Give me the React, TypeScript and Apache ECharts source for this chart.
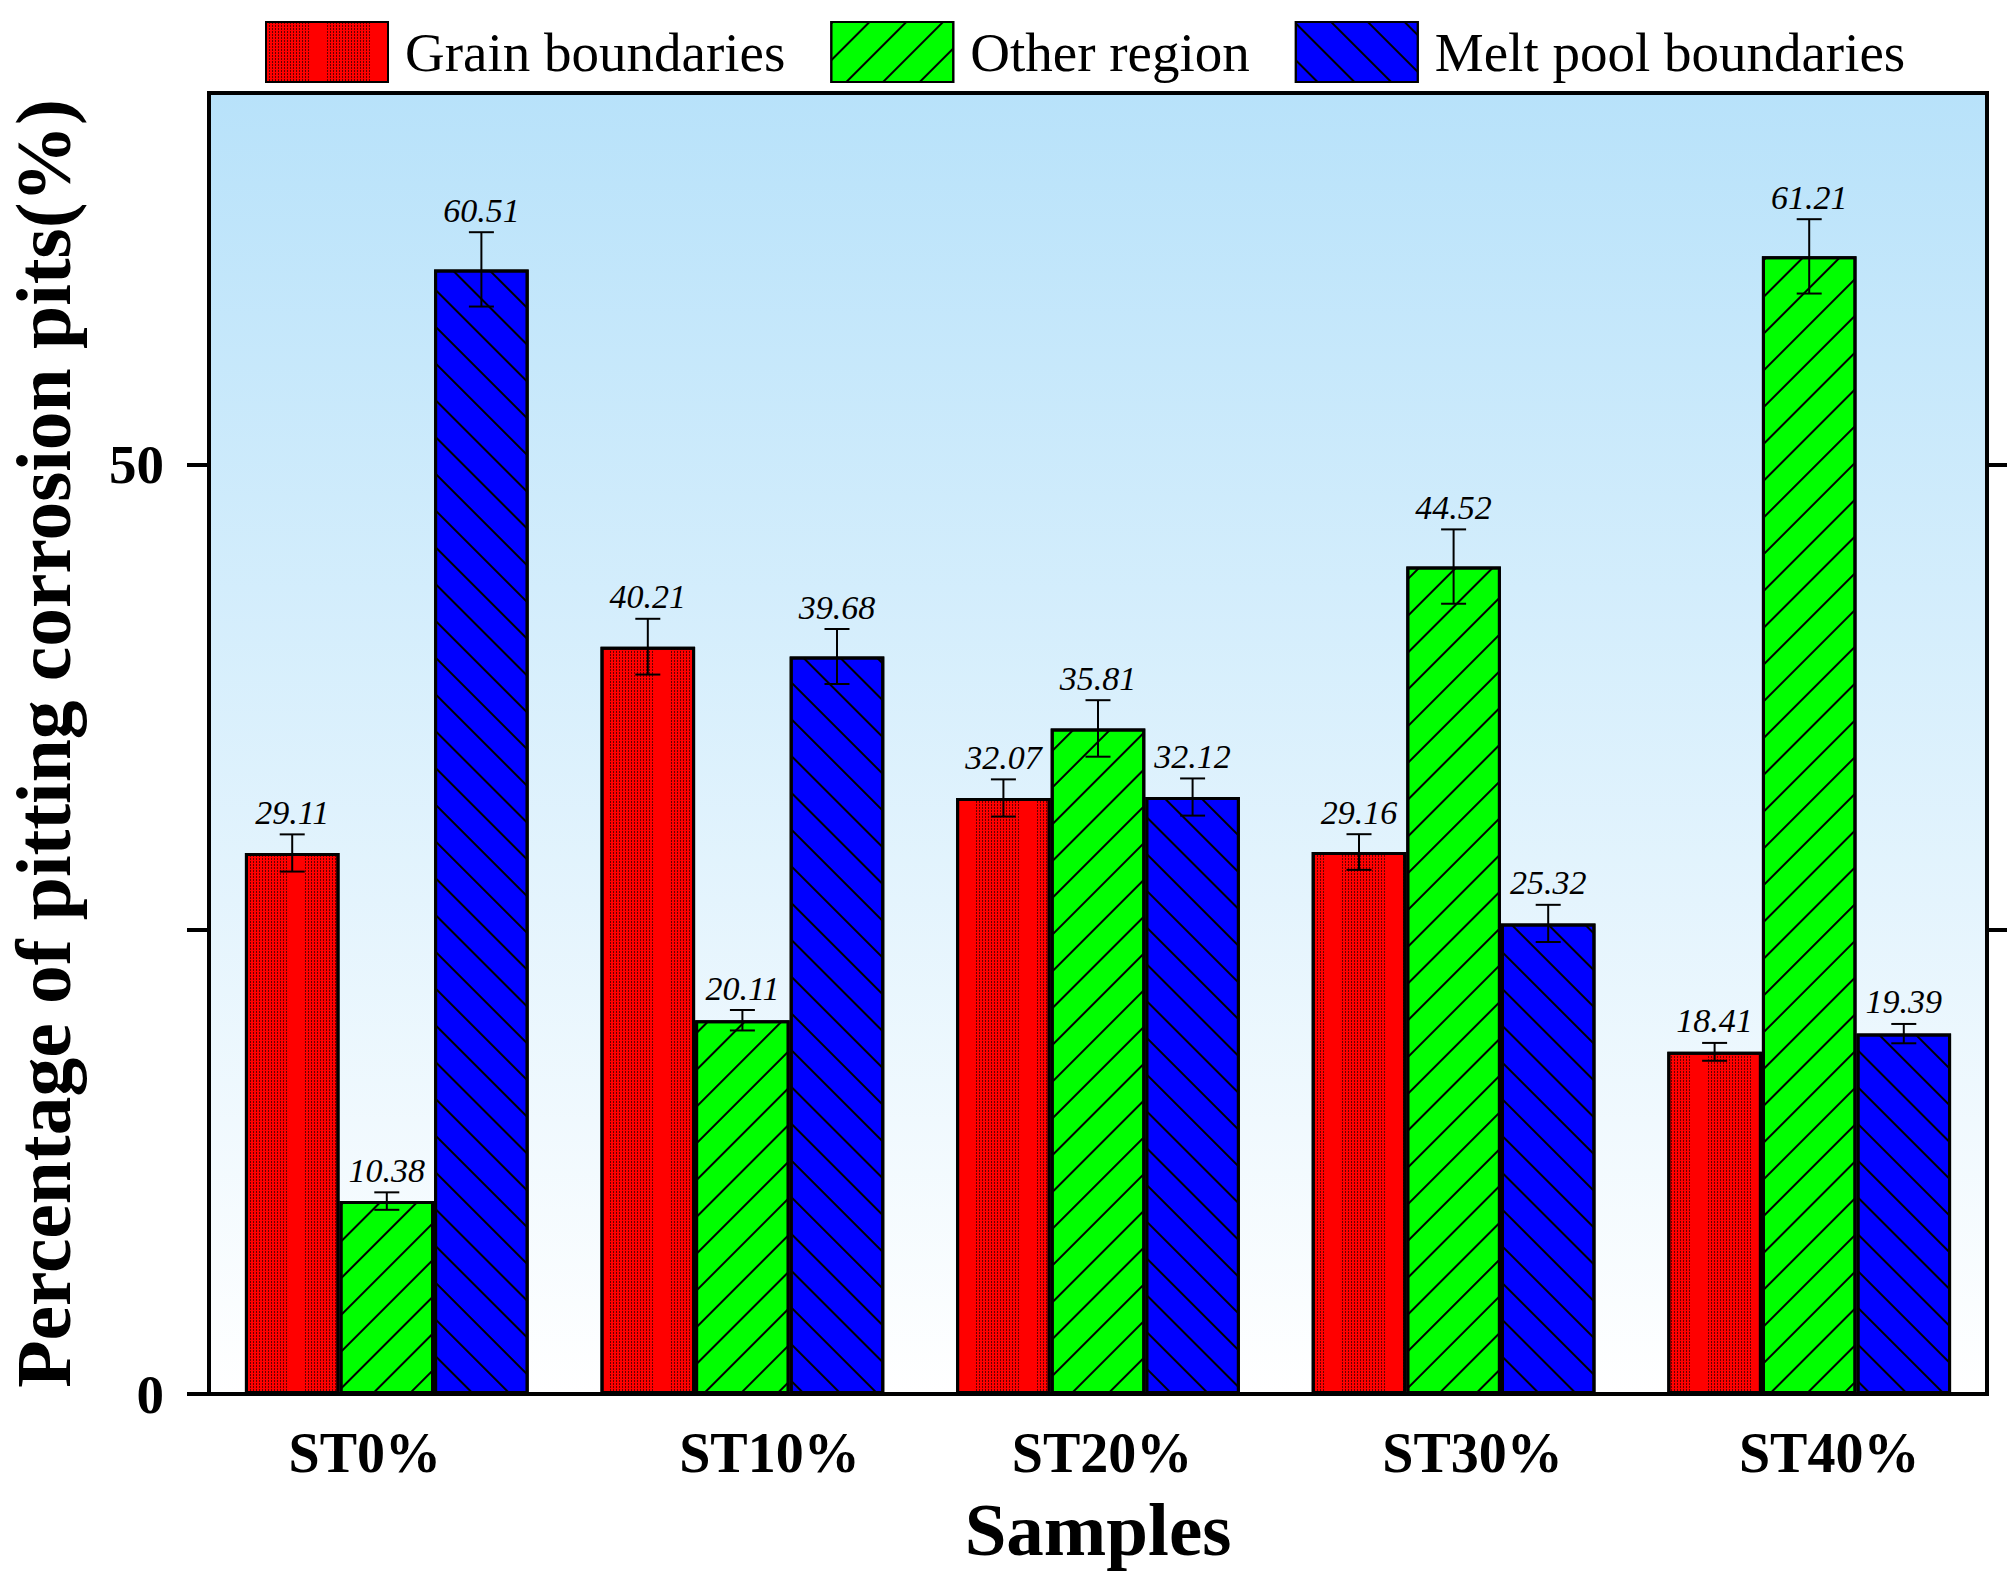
import { useEffect, useRef } from 'react'
import * as echarts from 'echarts'

// 数据
const samples = ['ST0%', 'ST10%', 'ST20%', 'ST30%', 'ST40%']
const seriesNames = ['Grain boundaries', 'Other region', 'Melt pool boundaries']
const grainValues = [29.11, 40.21, 32.07, 29.16, 18.41]
const otherValues = [10.38, 20.11, 35.81, 44.52, 61.21]
const meltValues = [60.51, 39.68, 32.12, 25.32, 19.39]
const grainErrors = [1.0, 1.5, 1.0, 0.96, 0.48]
const otherErrors = [0.47, 0.55, 1.52, 2.0, 2.0]
const meltErrors = [2.0, 1.48, 1.0, 1.0, 0.52]
const yTicks = [0, 25, 50]
const yLabels = [0, 50]
const rightTicks = [25, 50]

const FONT = "'Liberation Serif', 'Times New Roman', serif"
const BAR_FRACTION = 0.266
// 类别标签的水平微调（像素），原图标签并未严格居中
const labelShift = [-22, 27, 4, 19, 20]

// 红色点阵图案：细点线 + 一条实心条带
const dotDash: number[] = []
for (let i = 0; i < 15; i++) dotDash.push(1, 2)
dotDash[dotDash.length - 1] = 18

const grainDecal = {
  symbol: 'rect',
  symbolSize: 1,
  color: 'rgba(0,0,0,0.6)',
  dashArrayX: dotDash,
  dashArrayY: [2, 1],
  rotation: 0
}
const otherDecal = {
  symbol: 'rect',
  symbolSize: 1,
  color: '#000',
  dashArrayX: [1, 0],
  dashArrayY: [2, 24],
  rotation: -Math.PI / 4
}
const meltDecal = {
  symbol: 'rect',
  symbolSize: 1,
  color: '#000',
  dashArrayX: [1, 0],
  dashArrayY: [2, 24],
  rotation: Math.PI / 4
}

function barSeries(name: string, values: number[], color: string, decal: any) {
  return {
    name,
    type: 'bar',
    data: values,
    barWidth: BAR_FRACTION * 100 + '%',
    barGap: '0%',
    itemStyle: { color, borderColor: '#000', borderWidth: 3, decal }
  }
}

// 误差棒 + 数值标签
function errorSeries(values: number[], errors: number[], offset: number) {
  return {
    type: 'custom',
    z: 10,
    silent: true,
    data: values.map((v, i) => [i, v, errors[i]]),
    encode: { x: 0, y: 1 },
    renderItem: (params: any, api: any) => {
      const i = api.value(0)
      const v = api.value(1)
      const e = api.value(2)
      const band = api.size([1, 0])[0]
      const x = api.coord([i, 0])[0] + offset * band * BAR_FRACTION
      const yTop = api.coord([i, v + e])[1]
      const yBot = api.coord([i, v - e])[1]
      const half = 12.5
      const lineStyle = { stroke: '#000', lineWidth: 2 }
      return {
        type: 'group',
        children: [
          { type: 'line', shape: { x1: x, y1: yTop, x2: x, y2: yBot }, style: lineStyle },
          { type: 'line', shape: { x1: x - half, y1: yTop, x2: x + half, y2: yTop }, style: lineStyle },
          { type: 'line', shape: { x1: x - half, y1: yBot, x2: x + half, y2: yBot }, style: lineStyle },
          {
            type: 'text',
            x,
            y: yTop - 5,
            style: {
              text: v.toFixed(2),
              fill: '#000',
              fontSize: 34,
              fontStyle: 'italic',
              fontFamily: FONT,
              textAlign: 'center',
              textVerticalAlign: 'bottom'
            }
          }
        ]
      }
    }
  }
}

const rich: Record<string, any> = {}
labelShift.forEach((s, i) => {
  rich['l' + i] = {
    fontSize: 56,
    fontWeight: 'bold',
    fontFamily: FONT,
    color: '#000',
    padding: s >= 0 ? [0, 0, 0, 2 * s] : [0, -2 * s, 0, 0]
  }
})

export default function App() {
  const chartRef = useRef<HTMLDivElement>(null)

  useEffect(() => {
    if (!chartRef.current) return
    const chart = echarts.init(chartRef.current, null, { renderer: 'svg' })

    const option: any = {
      animation: false,
      backgroundColor: '#fff',
      textStyle: { fontFamily: FONT },
      legend: {
        data: seriesNames,
        left: 265,
        top: 21,
        padding: 0,
        itemWidth: 122,
        itemHeight: 60,
        itemGap: 45,
        icon: 'rect',
        textStyle: {
          fontSize: 55,
          fontFamily: FONT,
          color: '#000',
          padding: [0, 0, 0, 12]
        }
      },
      grid: {
        left: 209,
        right: 23,
        top: 93,
        bottom: 187,
        outerBoundsMode: 'none',
        show: true,
        borderColor: '#000',
        borderWidth: 4,
        backgroundColor: new echarts.graphic.LinearGradient(0, 0, 0, 1, [
          { offset: 0, color: '#b8e2fa' },
          { offset: 1, color: '#ffffff' }
        ])
      },
      xAxis: {
        type: 'category',
        data: samples,
        axisLine: { show: true, lineStyle: { color: '#000', width: 4 } },
        axisTick: { show: false },
        axisLabel: {
          interval: 0,
          margin: 31,
          formatter: (v: string, idx: number) => `{l${idx}|${v}}`,
          rich
        },
        name: 'Samples',
        nameLocation: 'middle',
        nameGap: 98,
        nameTextStyle: { fontSize: 75, fontWeight: 'bold', fontFamily: FONT, color: '#000' }
      },
      yAxis: [
        {
          type: 'value',
          min: 0,
          max: 70,
          position: 'left',
          axisLine: { show: true, lineStyle: { color: '#000', width: 4 } },
          axisTick: {
            show: true,
            inside: false,
            length: 22,
            customValues: yTicks,
            lineStyle: { color: '#000', width: 4 }
          },
          axisLabel: {
            customValues: yLabels,
            margin: 45,
            fontSize: 55,
            fontWeight: 'bold',
            fontFamily: FONT,
            color: '#000'
          },
          splitLine: { show: false },
          name: 'Percentage of pitting corrosion pits(%)',
          nameLocation: 'middle',
          nameGap: 126,
          nameTextStyle: { fontSize: 77.5, fontWeight: 'bold', fontFamily: FONT, color: '#000' }
        },
        {
          type: 'value',
          min: 0,
          max: 70,
          position: 'right',
          axisLine: { show: true, lineStyle: { color: '#000', width: 4 } },
          axisTick: {
            show: true,
            inside: false,
            length: 20,
            customValues: rightTicks,
            lineStyle: { color: '#000', width: 4 }
          },
          axisLabel: { show: false },
          splitLine: { show: false }
        }
      ],
      series: [
        barSeries(seriesNames[0], grainValues, '#ff0000', grainDecal),
        barSeries(seriesNames[1], otherValues, '#00ff00', otherDecal),
        barSeries(seriesNames[2], meltValues, '#0000ff', meltDecal),
        errorSeries(grainValues, grainErrors, -1),
        errorSeries(otherValues, otherErrors, 0),
        errorSeries(meltValues, meltErrors, 1)
      ]
    }

    chart.setOption(option)
    return () => chart.dispose()
  }, [])

  return (
    <div
      ref={chartRef}
      style={{ position: 'absolute', left: 0, top: 0, width: 2010, height: 1581 }}
    />
  )
}
